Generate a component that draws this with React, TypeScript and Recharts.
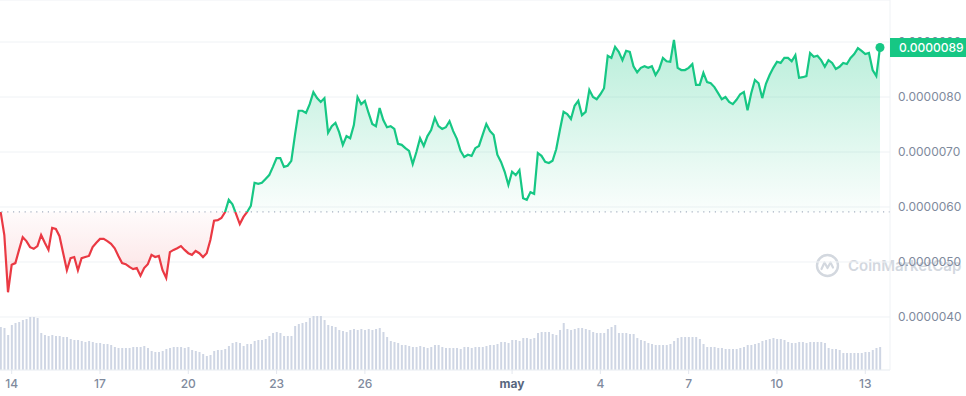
import {
    ComposedChart,
    Area,
    Bar,
    XAxis,
    YAxis,
    CartesianGrid,
    ReferenceLine,
    ReferenceDot,
} from 'recharts';

// price in units of 1e-7 (so 89.0 -> 0.0000089), one point every 3 hours
const price = [
    59.1, 54.9, 44.5, 49.5, 49.8, 52.2, 54.5, 53.8, 52.7, 52.4,
    52.9, 54.9, 53.5, 52.2, 56.2, 56.0, 54.7, 51.6, 48.5, 50.7,
    50.9, 48.5, 50.7, 50.9, 51.1, 52.7, 53.5, 54.2, 54.2, 53.8,
    53.3, 52.5, 51.1, 49.8, 49.6, 49.1, 48.7, 48.9, 47.5, 48.9,
    49.6, 51.3, 50.9, 51.1, 48.5, 47.1, 51.8, 52.2, 52.5, 52.9,
    52.2, 51.6, 51.3, 52.0, 51.6, 50.9, 51.6, 54.0, 57.5, 57.6,
    58.0, 59.1, 61.3, 60.5, 58.7, 56.9, 58.2, 59.1, 60.2, 64.4,
    64.2, 64.4, 65.1, 65.8, 67.3, 68.9, 68.9, 67.3, 67.5, 68.4,
    73.1, 77.5, 77.5, 77.1, 78.7, 80.9, 79.8, 79.1, 79.8, 73.5,
    74.7, 75.3, 73.6, 71.3, 72.9, 72.5, 74.9, 80.0, 78.7, 79.3,
    77.1, 75.1, 74.7, 78.0, 75.8, 74.5, 74.7, 74.2, 71.5, 71.3,
    70.7, 70.2, 67.8, 70.0, 72.5, 71.1, 72.9, 74.0, 76.2, 74.7,
    74.2, 74.5, 75.6, 73.8, 72.4, 70.2, 69.1, 69.5, 69.3, 70.7,
    71.1, 73.1, 75.1, 73.8, 73.1, 69.5, 68.2, 66.4, 64.0, 66.4,
    65.8, 66.7, 61.6, 61.3, 62.7, 62.4, 69.8, 69.3, 68.2, 68.0,
    68.4, 70.5, 74.0, 77.3, 76.9, 76.0, 78.4, 79.3, 76.7, 77.3,
    81.3, 80.0, 79.6, 80.5, 81.6, 87.5, 87.1, 89.1, 88.2, 86.7,
    88.4, 88.2, 85.6, 84.5, 85.3, 85.6, 85.3, 85.6, 84.0, 85.1,
    87.1, 86.5, 86.4, 90.4, 85.3, 84.9, 84.9, 85.3, 86.0, 82.2,
    82.2, 84.4, 82.7, 82.5, 81.8, 80.7, 79.6, 80.0, 79.1, 78.7,
    79.5, 80.5, 80.9, 77.6, 80.7, 83.1, 82.5, 79.8, 82.4, 84.0,
    85.3, 86.4, 86.2, 87.1, 87.1, 86.5, 87.6, 83.5, 83.6, 83.8,
    88.0, 87.3, 87.5, 86.7, 85.5, 86.7, 86.2, 85.1, 85.5, 86.2,
    86.0, 87.1, 87.8, 88.9, 88.4, 87.8, 88.0, 84.9, 83.8, 89.0,
];

// volume, relative units
const volume = [
    43, 42, 35, 45, 47, 48, 50, 51, 53, 53,
    52, 37, 35, 34, 35, 34, 34, 33, 33, 31,
    30, 30, 29, 28, 29, 28, 27, 27, 26, 26,
    25, 23, 22, 22, 22, 22, 23, 23, 23, 24,
    22, 19, 18, 18, 19, 21, 22, 23, 23, 23,
    22, 23, 20, 19, 18, 16, 14, 15, 19, 20,
    20, 21, 24, 27, 28, 27, 24, 26, 26, 29,
    30, 30, 31, 34, 37, 38, 37, 34, 34, 34,
    44, 46, 47, 48, 52, 54, 54, 54, 50, 45,
    44, 43, 40, 39, 38, 40, 41, 40, 41, 40,
    41, 40, 41, 42, 38, 33, 29, 28, 27, 25,
    25, 24, 23, 23, 24, 23, 22, 23, 25, 25,
    23, 22, 22, 22, 22, 21, 23, 23, 22, 23,
    23, 23, 24, 25, 25, 26, 28, 28, 27, 30,
    30, 29, 32, 32, 31, 32, 37, 38, 38, 38,
    36, 35, 40, 47, 41, 40, 41, 42, 42, 41,
    40, 38, 37, 37, 37, 41, 43, 45, 37, 37,
    37, 36, 36, 32, 30, 29, 27, 26, 25, 25,
    25, 25, 26, 29, 32, 33, 33, 33, 33, 33,
    31, 26, 23, 23, 23, 22, 22, 21, 21, 21,
    21, 22, 23, 25, 25, 26, 27, 29, 30, 31,
    32, 31, 31, 30, 28, 27, 27, 28, 28, 27,
    28, 28, 28, 28, 27, 22, 21, 21, 20, 17,
    17, 17, 17, 17, 17, 18, 18, 20, 22, 23,
];

const START_DAY = -0.375; // days from 14 apr
const STEP_DAYS = 0.125;
const OPEN_PRICE = 59.1;

const tickDays = [0, 3, 6, 9, 12, 17, 20, 23, 26, 29];
const tickLabels = ['14', '17', '20', '23', '26', 'may', '4', '7', '10', '13'];
const priceTicks = [40, 50, 60, 70, 80, 90];

const WIDTH = 966;
const HEIGHT = 396;
const AXIS_W = 76;
const AXIS_H = 26;
const PLOT_H = HEIGHT - AXIS_H;
const Y_DOMAIN: [number, number] = [30.36, 97.64];
const X_DOMAIN: [number, number] = [-0.397, 29.84];

const GREEN = '#16c784';
const RED = '#ea3943';
const GRID = '#eff2f5';
const TEXT = '#808a9d';
const FONT = 'Inter, sans-serif';

const data = price.map((p, i) => ({
    day: START_DAY + i * STEP_DAYS,
    price: p,
    volume: volume[i],
}));

const last = data[data.length - 1];
const split = (Y_DOMAIN[1] - OPEN_PRICE) / (Y_DOMAIN[1] - Y_DOMAIN[0]);

const fmt = (v: number) => (v * 1e-7).toFixed(7);

const DayTick = ({ x, y, payload }: any) => {
    const label = tickLabels[tickDays.indexOf(payload.value)];
    const month = label === 'may';
    return (
        <text
            x={x}
            y={y}
            dy={10}
            textAnchor="middle"
            fill={month ? '#58667e' : TEXT}
            fontSize={12}
            fontWeight={month ? 700 : 500}
            fontFamily={FONT}
        >
            {label}
        </text>
    );
};

const PriceTag = ({ viewBox }: any) => {
    if (!viewBox) return null;
    const x = viewBox.x + viewBox.width;
    const y = viewBox.y;
    return (
        <g>
            <rect x={x} y={y - 9.5} width={AXIS_W} height={19} fill={GREEN} />
            <text x={x + 9} y={y} dy={4.2} fill="#fff" fontSize={12} fontWeight={500} fontFamily={FONT}>
                {fmt(last.price)}
            </text>
        </g>
    );
};

const layer: React.CSSProperties = { position: 'absolute', left: 0, top: 0 };

export default function App() {
    return (
        <div style={{ position: 'absolute', left: 0, top: 0, width: WIDTH, height: HEIGHT }}>
            {/* watermark sits behind the chart */}
            <div
                style={{
                    position: 'absolute',
                    left: 815,
                    top: 253,
                    display: 'flex',
                    alignItems: 'center',
                    gap: 8,
                    color: '#d3d8df',
                    fontFamily: FONT,
                    fontWeight: 600,
                    fontSize: 15,
                }}
            >
                <svg width={25} height={25} viewBox="0 0 25 25">
                    <circle cx={12.5} cy={12.5} r={10.5} fill="none" stroke="#d3d8df" strokeWidth={2.4} />
                    <path
                        d="M6.5 16 L9.5 9.5 L12.5 15 L15.5 9.5 L18 14.5"
                        fill="none"
                        stroke="#d3d8df"
                        strokeWidth={2.2}
                        strokeLinejoin="round"
                        strokeLinecap="round"
                    />
                </svg>
                <span>CoinMarketCap</span>
            </div>
            <div style={layer}>
                <ComposedChart
                    width={WIDTH}
                    height={HEIGHT}
                    data={data}
                    margin={{ top: 0, right: 0, bottom: 0, left: 0 }}
                >
                    <defs>
                        <linearGradient id="priceStroke" gradientUnits="userSpaceOnUse" x1={0} y1={0} x2={0} y2={PLOT_H}>
                            <stop offset={split} stopColor={GREEN} />
                            <stop offset={split} stopColor={RED} />
                        </linearGradient>
                        <linearGradient id="priceFill" gradientUnits="userSpaceOnUse" x1={0} y1={0} x2={0} y2={PLOT_H}>
                            <stop offset={0} stopColor={GREEN} stopOpacity={0.32} />
                            <stop offset={0.11} stopColor={GREEN} stopOpacity={0.3} />
                            <stop offset={split} stopColor={GREEN} stopOpacity={0.02} />
                            <stop offset={split} stopColor={RED} stopOpacity={0.02} />
                            <stop offset={0.8} stopColor={RED} stopOpacity={0.17} />
                            <stop offset={1} stopColor={RED} stopOpacity={0.17} />
                        </linearGradient>
                    </defs>
                    <CartesianGrid vertical={false} stroke={GRID} />
                    <XAxis
                        dataKey="day"
                        type="number"
                        domain={X_DOMAIN}
                        allowDataOverflow
                        ticks={tickDays}
                        interval={0}
                        height={AXIS_H}
                        axisLine={{ stroke: GRID }}
                        tickLine={{ stroke: '#e3e7ee' }}
                        tickSize={4}
                        tickMargin={4}
                        tick={<DayTick />}
                    />
                    <YAxis
                        orientation="right"
                        type="number"
                        domain={Y_DOMAIN}
                        allowDataOverflow
                        ticks={priceTicks}
                        interval={0}
                        width={AXIS_W}
                        axisLine={{ stroke: GRID }}
                        tickLine={false}
                        tickFormatter={fmt}
                        tick={{ fill: TEXT, fontSize: 12, fontFamily: FONT }}
                    />
                    <YAxis yAxisId="vol" hide domain={[0, PLOT_H]} />
                    <Bar yAxisId="vol" dataKey="volume" fill="#cfd6e4" barSize={2} isAnimationActive={false} />
                    <ReferenceLine y={OPEN_PRICE} stroke="#a7b1c2" strokeWidth={1.2} strokeDasharray="1.2 4.6" />
                    <Area
                        type="linear"
                        dataKey="price"
                        baseValue={OPEN_PRICE}
                        stroke="url(#priceStroke)"
                        strokeWidth={2.2}
                        fill="url(#priceFill)"
                        fillOpacity={1}
                        dot={false}
                        activeDot={false}
                        isAnimationActive={false}
                    />
                    <ReferenceDot x={last.day} y={last.price} r={4.5} fill={GREEN} stroke="none" />
                </ComposedChart>
            </div>
            {/* last price tag, drawn above the axis labels */}
            <div style={layer}>
                <ComposedChart
                    width={WIDTH}
                    height={HEIGHT}
                    data={data}
                    margin={{ top: 0, right: AXIS_W, bottom: AXIS_H, left: 0 }}
                >
                    <XAxis dataKey="day" type="number" domain={X_DOMAIN} allowDataOverflow hide />
                    <YAxis type="number" domain={Y_DOMAIN} allowDataOverflow hide />
                    <ReferenceLine y={last.price} stroke="none" label={(p: any) => <PriceTag {...p} />} />
                </ComposedChart>
            </div>
        </div>
    );
}
